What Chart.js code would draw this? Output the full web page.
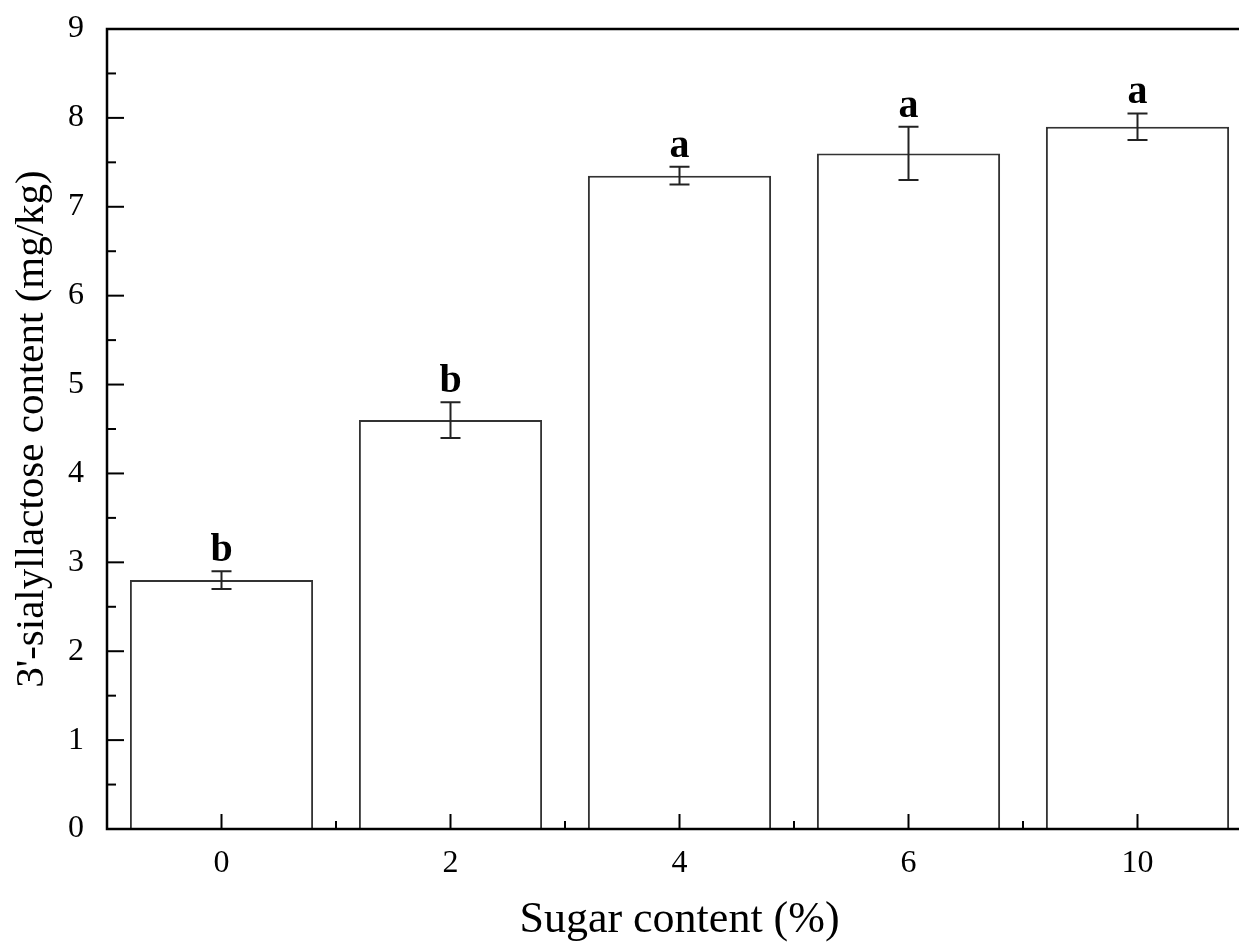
<!DOCTYPE html>
<html>
<head>
<meta charset="utf-8">
<script src="https://cdn.jsdelivr.net/npm/chart.js@4.4.1/dist/chart.umd.min.js"></script>
<style>
	html, body { margin: 0; padding: 0; background: #fff; overflow: hidden; }
	#wrap { width: 1260px; height: 945px; }
</style>
</head>
<body>
<div id="wrap"><canvas id="sugarChart" width="1260" height="945"></canvas></div>
<script>
const categories = ["0", "2", "4", "6", "10"];
const means = [2.8, 4.6, 7.35, 7.6, 7.9];
const errors = [0.1, 0.2, 0.1, 0.3, 0.15];
const letters = ["b", "b", "a", "a", "a"];
const yMin = 0, yMax = 9, yStep = 1;

const serif = '"Liberation Serif", "Times New Roman", serif';

// axes frame, inward ticks, error bars and letters
const decorPlugin = {
	id: "decor",
	afterDatasetsDraw(chart) {
		const ctx = chart.ctx;
		const area = chart.chartArea;
		const x = chart.scales.x;
		const y = chart.scales.y;
		ctx.save();

		// error bars
		ctx.strokeStyle = "#222";
		ctx.lineWidth = 2;
		means.forEach(function (m, i) {
			const px = x.getPixelForValue(i);
			const top = y.getPixelForValue(m + errors[i]);
			const bot = y.getPixelForValue(m - errors[i]);
			ctx.beginPath();
			ctx.moveTo(px, top); ctx.lineTo(px, bot);
			ctx.moveTo(px - 10, top); ctx.lineTo(px + 10, top);
			ctx.moveTo(px - 10, bot); ctx.lineTo(px + 10, bot);
			ctx.stroke();

			ctx.fillStyle = "#000";
			ctx.font = "bold 40px " + serif;
			ctx.textAlign = "center";
			ctx.textBaseline = "alphabetic";
			ctx.fillText(letters[i], px, top - 10);
		});

		// frame
		ctx.strokeStyle = "#000";
		ctx.lineWidth = 2.5;
		ctx.strokeRect(area.left, area.top, area.right - area.left, area.bottom - area.top);

		// y ticks (inward)
		ctx.lineWidth = 2;
		for (let v = yMin; v <= yMax; v += yStep / 2) {
			const py = y.getPixelForValue(v);
			const len = Number.isInteger(v) ? 17 : 9;
			ctx.beginPath();
			ctx.moveTo(area.left, py); ctx.lineTo(area.left + len, py);
			ctx.stroke();
		}
		// x ticks (inward)
		for (let i = 0; i < categories.length; i++) {
			const px = x.getPixelForValue(i);
			ctx.beginPath();
			ctx.moveTo(px, area.bottom); ctx.lineTo(px, area.bottom - 15);
			ctx.stroke();
			if (i < categories.length - 1) {
				const mid = (px + x.getPixelForValue(i + 1)) / 2;
				ctx.beginPath();
				ctx.moveTo(mid, area.bottom); ctx.lineTo(mid, area.bottom - 8);
				ctx.stroke();
			}
		}
		ctx.restore();
	},
};

const ctx = document.getElementById("sugarChart").getContext("2d");
const chart = new Chart(ctx, {
	type: "bar",
	data: {
		labels: categories,
		datasets: [
			{
				data: means,
				backgroundColor: "#fff",
				borderColor: "#333",
				borderWidth: 2,
				barPercentage: 0.8,
				categoryPercentage: 1,
			},
		],
	},
	options: {
		responsive: false,
		animation: false,
		layout: {
			padding: { top: 29, right: 8, left: 0, bottom: 0 },
		},
		plugins: {
			legend: { display: false },
			title: { display: false },
			tooltip: { enabled: false },
		},
		scales: {
			x: {
				offset: true,
				grid: { display: false, drawTicks: false },
				border: { display: false },
				ticks: {
					color: "#000",
					padding: 15,
					font: { family: serif, size: 32 },
				},
				title: {
					display: true,
					text: "Sugar content (%)",
					color: "#000",
					font: { family: serif, size: 44, lineHeight: 1.1 },
					padding: { top: 0, bottom: 0 },
				},
				afterFit: function (s) {
					s.height = 116;
					s.paddingLeft = 0;
					s.paddingRight = 0;
				},
			},
			y: {
				min: yMin,
				max: yMax,
				grid: { display: false, drawTicks: false },
				border: { display: false },
				ticks: {
					stepSize: yStep,
					color: "#000",
					padding: 23,
					font: { family: serif, size: 32 },
				},
				title: {
					display: true,
					text: "3'-sialyllactose content (mg/kg)",
					color: "#000",
					font: { family: serif, size: 41 },
					padding: { top: 8, bottom: 0 },
				},
				afterFit: function (s) {
					s.width = 107;
					s.paddingTop = 0;
					s.paddingBottom = 0;
				},
			},
		},
	},
	plugins: [decorPlugin],
});
</script>
</body>
</html>
